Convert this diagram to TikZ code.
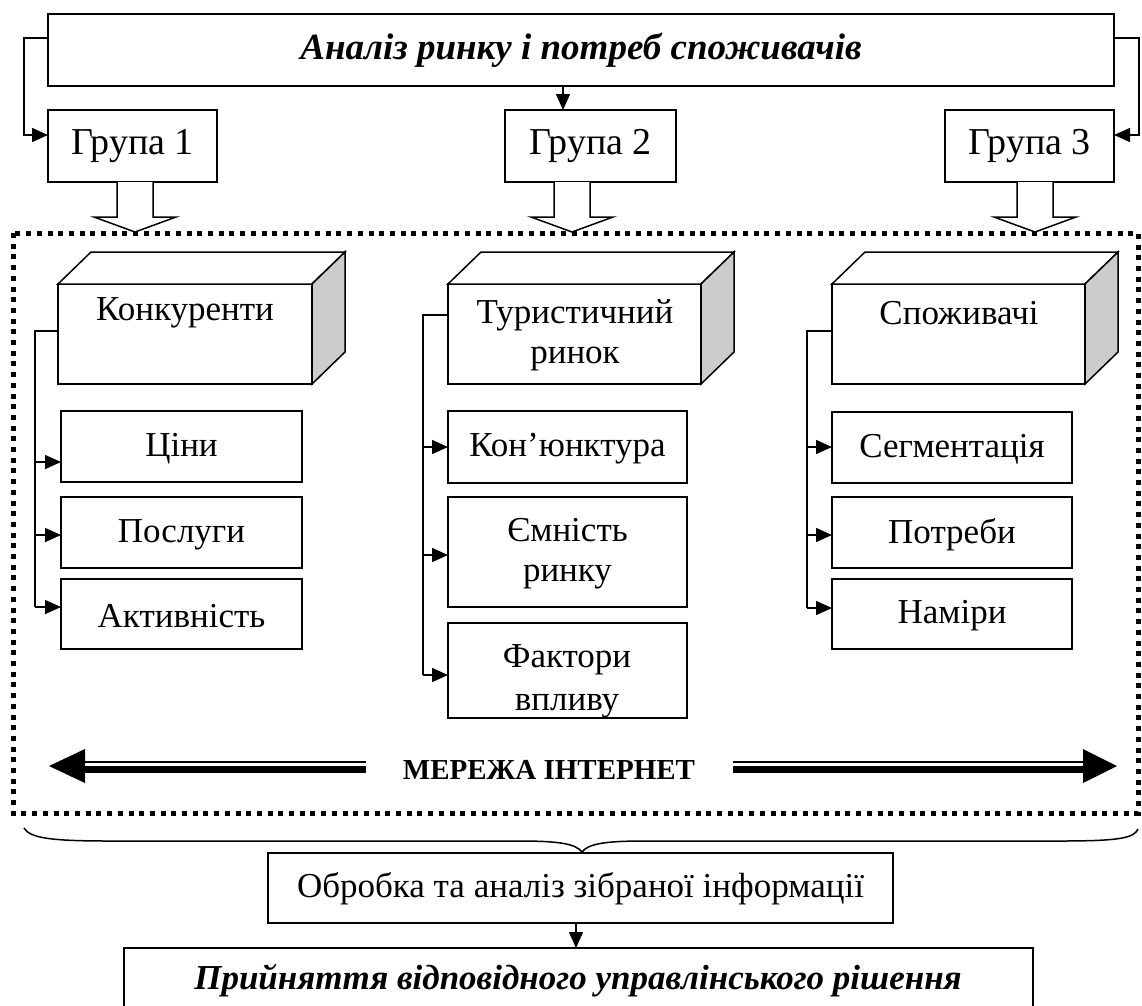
\documentclass[tikz,border=0pt]{standalone}
\usepackage{fontspec}
\setmainfont{Liberation Serif}
\usetikzlibrary{arrows.meta,calc}
\begin{document}
\begin{tikzpicture}[x=1pt,y=-1pt,
  box/.style={draw,line width=1.5pt,fill=white,inner sep=0pt,outer sep=0pt,anchor=north west},
  txt/.style={font=\fontsize{35}{40}\selectfont,align=center,inner sep=0pt},
  gtxt/.style={font=\fontsize{38}{42}\selectfont,inner sep=0pt},
  ttl/.style={font=\fontsize{37}{42}\selectfont\bfseries\itshape,inner sep=0pt},
  conn/.style={line width=1.5pt},
  arr/.style={line width=1.5pt,-{Triangle[length=16pt,width=14pt]}},
  blockarr/.pic={\draw[line width=1.5pt,fill=white] (-18,0) -- (-18,35) -- (-41,35) -- (0,50) -- (41,35) -- (18,35) -- (18,0);},
]
\useasboundingbox (0,0) rectangle (1142,1005);

% top
\node[box,minimum width=1066pt,minimum height=72pt] (top) at (48,14) {};
\node[ttl] (toptxt) at (581,50) {Аналіз ринку і потреб споживачів};

\node[box,minimum width=169pt,minimum height=72pt] (g1) at (48,110) {};
\node[gtxt] (g1t) at (g1.center) {Група 1};
\node[box,minimum width=171pt,minimum height=72pt] (g2) at (505,110) {};
\node[gtxt] (g2t) at (g2.center) {Група 2};
\node[box,minimum width=169pt,minimum height=72pt] (g3) at (945,110) {};
\node[gtxt] (g3t) at (g3.center) {Група 3};

\draw[arr] ($(top.north west)+(0,24)$) -- (24,38) -- (24,135) -- ($(g1.north west)+(0,25)$);
\draw[arr] ($(top.north east)+(0,24)$) -- (1139,38) -- (1139,135) -- ($(g3.north east)+(0,25)$);
\draw[arr] (top.south -| 563,0) -- (g2.north -| 563,0);

\pic at (135,182) {blockarr};
\pic at (572,182) {blockarr};
\pic at (1035,182) {blockarr};

% dotted frame
\draw[line width=5pt,dash pattern=on 5pt off 5.7pt] (13,233) rectangle (1138,813);

% cubes
\foreach \n/\x/\w in {c1/58/254, c2/448/253, c3/832/253}{
  \node[box,minimum width=\w pt,minimum height=100pt] (\n) at (\x,284) {};
  \draw[line width=1.5pt,fill=white] (\n.north west) -- ++(33,-32) -- ++(\w,0) -- (\n.north east) -- cycle;
  \draw[line width=1.5pt,fill=black!20] (\n.north east) -- ++(33,-32) -- ++(0,100) -- (\n.south east) -- cycle;
}
\node[txt] (c1t) at (185,313) {Конкуренти};
\node[txt] (c2t) at (575,335) {Туристичний\\ринок};
\node[txt] (c3t) at (959,313) {Споживачі};

% group 1 children
\node[box,minimum width=241pt,minimum height=71pt] (a1) at (61,411) {};
\node[txt] (a1t) at ($(a1.center)+(0,2)$) {Ціни};
\node[box,minimum width=241pt,minimum height=71pt] (a2) at (61,497) {};
\node[txt] (a2t) at ($(a2.center)+(0,2)$) {Послуги};
\node[box,minimum width=241pt,minimum height=70pt] (a3) at (61,579) {};
\node[txt] (a3t) at ($(a3.center)+(0,2)$) {Активність};
\draw[conn] ($(c1.north west)+(0,47)$) -- (35,331) -- (35,607);
\draw[arr] (35,462) -- (a1.west |- 0,462);
\draw[arr] (35,535) -- (a2.west |- 0,535);
\draw[arr] (35,607) -- (a3.west |- 0,607);

% group 2 children
\node[box,minimum width=239pt,minimum height=72pt] (b1) at (448,411) {};
\node[txt] (b1t) at ($(b1.center)+(0,2)$) {Кон’юнктура};
\node[box,minimum width=239pt,minimum height=110pt] (b2) at (448,497) {};
\node[txt] (b2t) at ($(b2.center)+(0,2)$) {Ємність\\ринку};
\node[box,minimum width=239pt,minimum height=95pt] (b3) at (448,623) {};
\begin{scope}
\clip (b3.north west) rectangle (b3.south east);
\node[txt,font=\fontsize{35}{43}\selectfont] (b3t) at (567,681) {Фактори\\впливу};
\end{scope}
\draw[line width=1.5pt] (b3.north west) rectangle (b3.south east);
\draw[conn] ($(c2.north west)+(0,31)$) -- (423,315) -- (423,675);
\draw[arr] (423,447) -- (b1.west |- 0,447);
\draw[arr] (423,555) -- (b2.west |- 0,555);
\draw[arr] (423,675) -- (b3.west |- 0,675);

% group 3 children
\node[box,minimum width=240pt,minimum height=71pt] (d1) at (832,412) {};
\node[txt] (d1t) at ($(d1.center)+(0,2)$) {Сегментація};
\node[box,minimum width=240pt,minimum height=71pt] (d2) at (832,497) {};
\node[txt] (d2t) at ($(d2.center)+(0,2)$) {Потреби};
\node[box,minimum width=240pt,minimum height=70pt] (d3) at (832,579) {};
\node[txt] (d3t) at ($(d3.center)+(0,2)$) {Наміри};
\draw[conn] ($(c3.north west)+(0,47)$) -- (807,331) -- (807,608);
\draw[arr] (807,447) -- (d1.west |- 0,447);
\draw[arr] (807,535) -- (d2.west |- 0,535);
\draw[arr] (807,608) -- (d3.west |- 0,608);

% internet arrows
\node[font=\fontsize{29}{31}\selectfont\bfseries,inner sep=0pt] (net) at (549,770) {МЕРЕЖА ІНТЕРНЕТ};
\coordinate (lb) at (85,766);
\coordinate (rb) at (1083,766);
\draw[line width=2pt] (366,762) -- (lb |- 0,762);
\draw[line width=7pt] (366,769.5) -- (lb |- 0,769.5);
\fill ($(lb)+(0,-17)$) -- (49,766) -- ($(lb)+(0,17)$) -- cycle;
\draw[line width=2pt] (733,762) -- (rb |- 0,762);
\draw[line width=7pt] (733,769.5) -- (rb |- 0,769.5);
\fill ($(rb)+(0,-17)$) -- (1117,766) -- ($(rb)+(0,17)$) -- cycle;

% brace
\draw[line width=1.5pt] (24,828) .. controls (30,838) and (50,841) .. (110,841) -- (520,841) .. controls (560,841) and (576,844) .. (582,852) .. controls (588,844) and (604,841) .. (644,841) -- (1060,841) .. controls (1120,841) and (1134,838) .. (1138,829);

% bottom
\node[box,minimum width=625pt,minimum height=70pt] (obr) at (268,853) {};
\node[txt] (obrt) at ($(obr.center)+(0,1)$) {Обробка та аналіз зібраної інформації};
\node[box,minimum width=909pt,minimum height=80pt] (pr) at (124,948) {};
\node[ttl,font=\fontsize{35}{40}\selectfont\bfseries\itshape] (prt) at (578,981) {Прийняття відповідного управлінського рішення};
\draw[arr] (obr.south -| 576,0) -- (pr.north -| 576,0);
\end{tikzpicture}
\end{document}
